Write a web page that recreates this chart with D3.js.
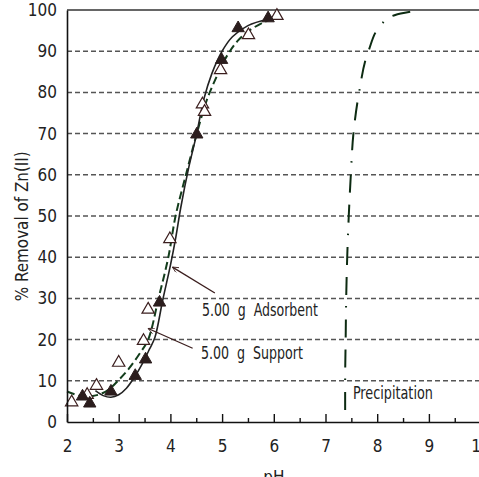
<!DOCTYPE html>
<html>
<head>
<meta charset="utf-8">
<script src="https://cdn.jsdelivr.net/npm/d3@7"></script>
<style>
html,body{margin:0;padding:0;background:#fff;overflow:hidden;}
svg{display:block;font-family:"Liberation Sans Narrow","DejaVu Sans Condensed","Arial Narrow",sans-serif;}
</style>
</head>
<body>
<svg id="chart" width="479" height="477"></svg>
<script>
// ---- data ----
const xTicks = [2,3,4,5,6,7,8,9,10];
const xMinorTicks = [2.5,3.5,4.5,5.5,6.5,7.5,8.5,9.5];
const yTicks = [0,10,20,30,40,50,60,70,80,90,100];
const gridValues = [10,20,30,40,50,60,70,80,90];

// 5.00 g Adsorbent (filled triangles)
const adsorbentPH  = [2.30,2.44,2.85,3.32,3.52,3.79,4.51,4.99,5.31,5.89];
const adsorbentPct = [6.2, 4.5, 7.4,11.2,15.2,29.0,69.8,87.9,95.6,98.0];
// 5.00 g Support (open triangles)
const supportPH  = [2.09,2.39,2.57,3.00,3.48,3.57,3.99,4.62,4.66,4.97,5.51,6.06];
const supportPct = [4.8, 6.6, 8.8,14.4,19.7,27.3,44.4,77.1,75.3,85.4,93.9,98.6];

// fitted curves
const adsorbentCurvePH  = [2.55,2.70,2.85,3.00,3.15,3.30,3.45,3.60,3.70,3.85,4.00,4.10,4.20,4.35,4.50,4.65,4.80,5.00,5.20,5.50,5.90];
const adsorbentCurvePct = [7.6, 6.4, 6.0, 6.6, 8.2,10.8,14.0,17.8,20.5,29.5,38.0,44.5,52.0,61.5,69.5,78.5,84.5,90.0,93.5,96.2,97.8];
const supportCurvePH  = [2.00,2.20,2.35,2.50,2.65,2.80,3.00,3.20,3.40,3.57,3.77,3.96,4.10,4.30,4.50,4.70,4.90,5.10,5.30,5.50,5.80,6.05];
const supportCurvePct = [7.4, 6.5, 6.1, 6.3, 6.8, 7.8,10.2,13.0,16.5,20.0,30.0,40.0,50.0,60.0,69.5,78.0,84.0,89.0,92.5,94.8,97.0,98.2];
const precipPH  = [7.38,7.38,7.39,7.40,7.42,7.45,7.49,7.54,7.65,7.83,8.10,8.35,8.65];
const precipPct = [2.9, 10,  20,  30,  40,  50,  60,  70,  80,  90,  96.8,98.8,99.6];

// annotations (data coordinates)
const labelTexts = ["5.00  g  Adsorbent","5.00  g  Support","Precipitation"];
const labelPH  = [4.61,4.59,7.53];
const labelPct = [25.7,15.4,5.6];
const labelLen = [116,102,80];
const arrowFrom = [[4.86,31.3],[4.43,17.9]];
const arrowTo   = [[4.04,37.6],[3.57,22.7]];

// ---- layout ----
const W = 479, H = 477;
const x = d3.scaleLinear().domain([2,10]).range([67,480.6]);
const y = d3.scaleLinear().domain([0,100]).range([422,10]);

const svg = d3.select("#chart");

svg.append("defs").append("marker")
  .attr("id","arrow").attr("viewBox","0 0 10 10")
  .attr("refX",10).attr("refY",5)
  .attr("markerWidth",9).attr("markerHeight",6)
  .attr("markerUnits","userSpaceOnUse")
  .attr("orient","auto")
  .append("path").attr("d","M0,0 L10,5 L0,10").attr("fill","none")
  .attr("stroke","#3b1e1e").attr("stroke-width",1.4);

// gridlines
svg.append("g").selectAll("line").data(gridValues).join("line")
  .attr("x1",x(2)).attr("x2",W)
  .attr("y1",d=>y(d)).attr("y2",d=>y(d))
  .attr("stroke","#555").attr("stroke-width",1.5)
  .attr("stroke-dasharray","5,3");

// top border
svg.append("line").attr("x1",x(2)).attr("x2",W)
  .attr("y1",y(100)).attr("y2",y(100))
  .attr("stroke","#666").attr("stroke-width",2);

// curves
const line = d3.line().x(d=>x(d[0])).y(d=>y(d[1])).curve(d3.curveCatmullRom.alpha(0.5));
const lineY = d3.line().x(d=>x(d[0])).y(d=>y(d[1])).curve(d3.curveMonotoneY);

svg.append("path").datum(supportCurvePH.map((v,i)=>[v,supportCurvePct[i]]))
  .attr("d",line).attr("fill","none").attr("stroke","#133d1c")
  .attr("stroke-width",2).attr("stroke-dasharray","8,4");
svg.append("path").datum(adsorbentCurvePH.map((v,i)=>[v,adsorbentCurvePct[i]]))
  .attr("d",line).attr("fill","none").attr("stroke","#222")
  .attr("stroke-width",1.6);
svg.append("path").datum(precipPH.map((v,i)=>[v,precipPct[i]]))
  .attr("d",lineY).attr("fill","none").attr("stroke","#0d2b12")
  .attr("stroke-width",2).attr("stroke-dasharray","18,12,1.5,11,18,12");

// markers
const tri = d3.symbol().type(d3.symbolTriangle).size(66);
svg.append("g").selectAll("path").data(supportPH.map((v,i)=>[v,supportPct[i]])).join("path")
  .attr("d",tri).attr("transform",d=>`translate(${x(d[0])},${y(d[1])})`)
  .attr("fill","#fff").attr("stroke","#3b1e1e").attr("stroke-width",1.2);
svg.append("g").selectAll("path").data(adsorbentPH.map((v,i)=>[v,adsorbentPct[i]])).join("path")
  .attr("d",tri).attr("transform",d=>`translate(${x(d[0])},${y(d[1])})`)
  .attr("fill","#2b1d1d").attr("stroke","#2b1d1d").attr("stroke-width",1);

// arrows
svg.append("g").selectAll("line").data(arrowFrom).join("line")
  .attr("x1",d=>x(d[0])).attr("y1",d=>y(d[1]))
  .attr("x2",(d,i)=>x(arrowTo[i][0])).attr("y2",(d,i)=>y(arrowTo[i][1]))
  .attr("stroke","#3b1e1e").attr("stroke-width",1.3)
  .attr("marker-end","url(#arrow)");

// labels
svg.append("g").selectAll("text").data(labelTexts).join("text")
  .attr("x",(d,i)=>x(labelPH[i])).attr("y",(d,i)=>y(labelPct[i]))
  .attr("font-size",17).attr("fill","#222")
  .attr("textLength",(d,i)=>labelLen[i]).attr("lengthAdjust","spacingAndGlyphs")
  .style("white-space","pre")
  .text(d=>d);

// axes
const xAxis = svg.append("g").attr("transform",`translate(0,${y(0)})`)
  .call(d3.axisBottom(x).tickValues(xTicks).tickSizeInner(-8).tickSizeOuter(0).tickPadding(17.6).tickFormat(d3.format("d")));
const xMinor = svg.append("g").attr("transform",`translate(0,${y(0)})`)
  .call(d3.axisBottom(x).tickValues(xMinorTicks).tickSizeInner(-4).tickSizeOuter(0).tickFormat(""));
xMinor.select(".domain").remove();
const yAxis = svg.append("g").attr("transform",`translate(${x(2)},0)`)
  .call(d3.axisLeft(y).tickValues(yTicks).tickSize(0).tickPadding(10).tickFormat(d3.format("d")));

[xAxis,xMinor,yAxis].forEach(g=>{
  g.attr("font-family",null).attr("font-size",null);
  g.selectAll(".domain").attr("stroke","#111").attr("stroke-width",1.6);
  g.selectAll(".tick line").attr("stroke","#111").attr("stroke-width",1.4);
  g.selectAll("text").attr("font-size",17).attr("fill","#222");
});

// axis titles
svg.append("text").attr("x",x(6)).attr("y",483)
  .attr("text-anchor","middle").attr("font-size",17).attr("fill","#222").text("pH");
svg.append("text").attr("transform",`translate(28,${y(47.5)}) rotate(-90)`)
  .attr("text-anchor","middle").attr("font-size",17).attr("fill","#222")
  .attr("textLength",150).attr("lengthAdjust","spacingAndGlyphs")
  .text("% Removal of Zn(II)");
</script>
</body>
</html>
